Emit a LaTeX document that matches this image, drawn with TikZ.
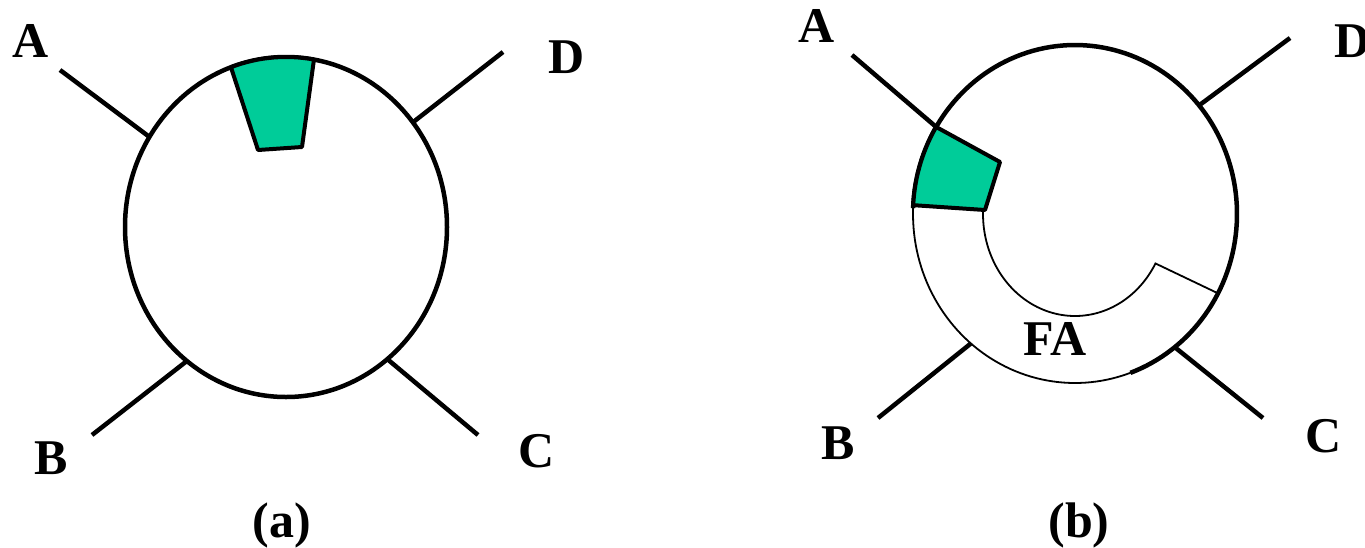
\documentclass[tikz,border=0pt]{standalone}
\usepackage{fontspec}
\setmainfont{Liberation Serif}
\definecolor{fagreen}{RGB}{0,204,153}
\begin{document}
\begin{tikzpicture}[x=1pt,y=-1pt,
  thickline/.style={line width=4.5pt},
  thinline/.style={line width=1.8pt},
  greenbox/.style={fill=fagreen,draw=black,line width=4pt,line join=round},
  lab/.style={font=\fontsize{50}{50}\selectfont\bfseries,inner sep=0pt,anchor=base}]
\useasboundingbox (0,0) rectangle (1365,547);
% ---------- (a) ----------
\def\cax{286}\def\cay{227}\def\rax{161}\def\ray{170}
\draw[thickline] (\cax,\cay) ellipse [x radius=\rax, y radius=\ray];
\filldraw[greenbox] plot[domain=110:80,samples=16] ({\cax+\rax*cos(\x)},{\cay-\ray*sin(\x)})
  -- (302,147) -- (258,150) -- cycle;
\coordinate (aA) at ({\cax+\rax*cos(148)},{\cay-\ray*sin(148)});
\coordinate (aD) at ({\cax+\rax*cos(38)},{\cay-\ray*sin(38)});
\coordinate (aB) at ({\cax+\rax*cos(232)},{\cay-\ray*sin(232)});
\coordinate (aC) at ({\cax+\rax*cos(309)},{\cay-\ray*sin(309)});
\coordinate (aA0) at (60,70);
\coordinate (aD0) at (503,52);
\coordinate (aB0) at (92,435);
\coordinate (aC0) at (478,435);
\draw[thickline] (aA0) -- (aA);
\draw[thickline] (aD0) -- (aD);
\draw[thickline] (aB0) -- (aB);
\draw[thickline] (aC0) -- (aC);
\node[lab] (la) at (31,57) {A};
\node[lab] (ld) at (567,73) {D};
\node[lab] (lb) at (51,474) {B};
\node[lab] (lc) at (537,467) {C};
\node[lab] (capa) at (282,537) {(a)};
% ---------- (b) ----------
\def\cbx{1075}\def\cby{214}\def\rbx{162}\def\rby{169}
\def\ibx{92}\def\iby{102}
\draw[thickline] plot[domain=-70:178,samples=120] ({\cbx+\rbx*cos(\x)},{\cby-\rby*sin(\x)});
\draw[thinline] plot[domain=177:291,samples=60] ({\cbx+\rbx*cos(\x)},{\cby-\rby*sin(\x)});
\coordinate (bJ) at ({\cbx+\rbx*cos(-28)},{\cby-\rby*sin(-28)});
\draw[thinline] plot[domain=178:331,samples=80] ({\cbx+\ibx*cos(\x)},{\cby-\iby*sin(\x)}) -- (bJ);
\filldraw[greenbox] plot[domain=149:177,samples=16] ({\cbx+\rbx*cos(\x)},{\cby-\rby*sin(\x)})
  -- (985,210) -- (1000,162) -- cycle;
\coordinate (bA) at ({\cbx+\rbx*cos(149)},{\cby-\rby*sin(149)});
\coordinate (bD) at ({\cbx+\rbx*cos(40)},{\cby-\rby*sin(40)});
\coordinate (bB) at ({\cbx+\rbx*cos(230)},{\cby-\rby*sin(230)});
\coordinate (bC) at ({\cbx+\rbx*cos(-52)},{\cby-\rby*sin(-52)});
\coordinate (bA0) at (852,55);
\coordinate (bD0) at (1290,38);
\coordinate (bB0) at (878,418);
\coordinate (bC0) at (1263,418);
\draw[thickline] (bA0) -- (bA);
\draw[thickline] (bD0) -- (bD);
\draw[thickline] (bB0) -- (bB);
\draw[thickline] (bC0) -- (bC);
\node[lab] (lba) at (817,42) {A};
\node[lab] (lbd) at (1353,57) {D};
\node[lab] (lbb) at (838,459) {B};
\node[lab] (lbc) at (1324,452) {C};
\node[lab] (lfa) at (1055,355) {FA};
\node[lab] (capb) at (1079,537) {(b)};
\end{tikzpicture}
\end{document}
